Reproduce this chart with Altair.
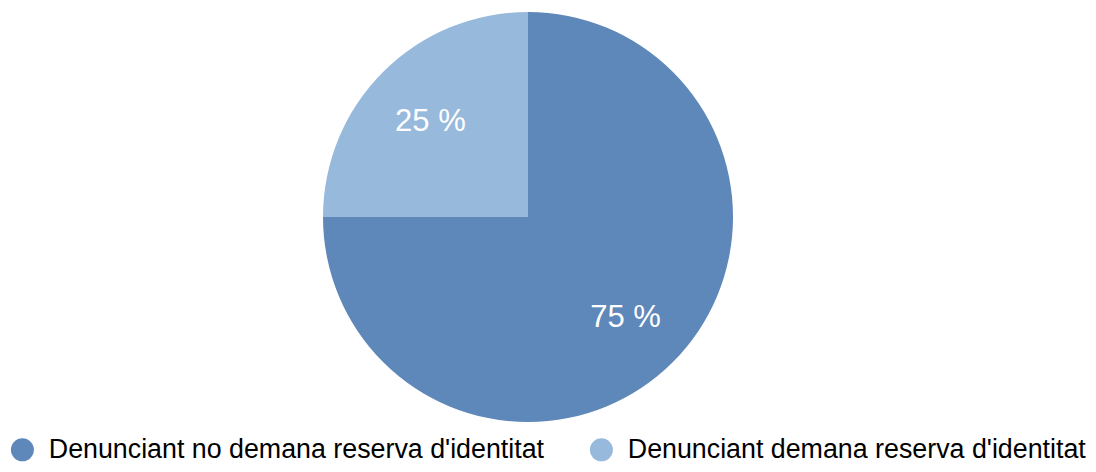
import altair as alt
import pandas as pd

categories = ["Denunciant no demana reserva d'identitat", "Denunciant demana reserva d'identitat"]
values = [75, 25]
labels = ["75 %", "25 %"]
colors = ["#5e87ba", "#97b9dc"]
order = [0, 1]

df = pd.DataFrame({"cat": categories, "value": values, "label": labels, "order": order})

FONT = "Liberation Sans"

base = alt.Chart(df).encode(
    theta=alt.Theta("value:Q", stack=True),
    order=alt.Order("order:Q"),
    x=alt.value(520),
    y=alt.value(209),
)

pie = base.mark_arc(outerRadius=205, strokeWidth=0).encode(
    color=alt.Color(
        "cat:N",
        scale=alt.Scale(domain=categories, range=colors),
        legend=alt.Legend(
            title=None,
            orient="none",
            direction="horizontal",
            columns=2,
            legendX=1,
            legendY=428,
            symbolType="circle",
            symbolSize=529,
            symbolStrokeWidth=0,
            symbolOpacity=1,
            labelFontSize=26.8,
            labelFont=FONT,
            labelColor="#000000",
            labelOffset=13,
            labelLimit=0,
            columnPadding=43,
            padding=0,
        ),
    )
)

text = base.mark_text(radius=138, dy=3, fontSize=31, color="white", font=FONT).encode(
    text="label:N"
)

chart = (
    alt.layer(pie, text)
    .properties(width=1080, height=456, autosize=alt.AutoSizeParams(type="none"), padding=0)
    .configure_view(stroke=None)
)

chart.save("out.html", embed_options={"renderer": "svg", "actions": False})
